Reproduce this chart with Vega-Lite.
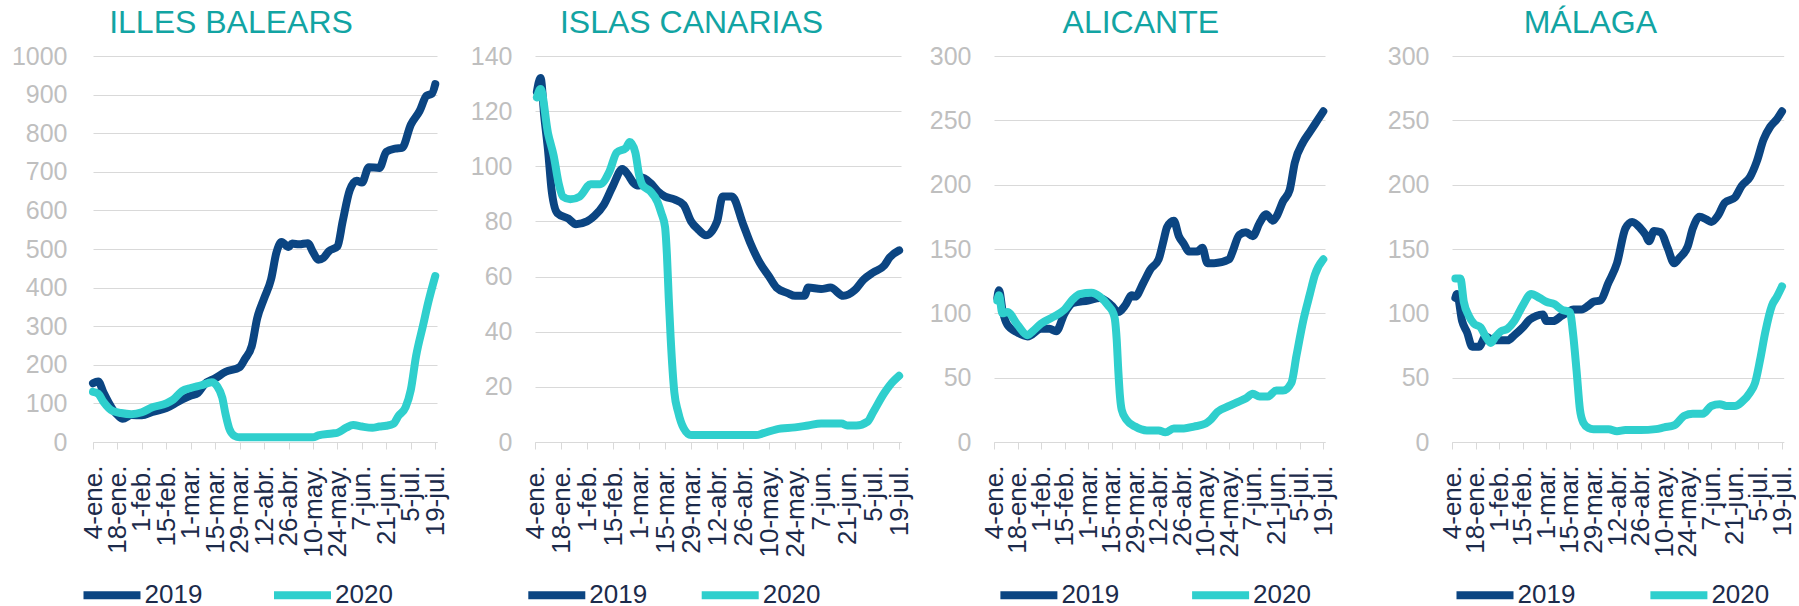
{
"$schema":"https://vega.github.io/schema/vega-lite/v6.json",
"padding":{"left":11,"top":7,"right":0,"bottom":0},
"background":"white",
"spacing":0,
"bounds":"flush",
"config":{
"view":{"stroke":null},
"font":"Liberation Sans",
"title":{"fontSize":32,"fontWeight":"normal","color":"#12a4a3","anchor":"middle","frame":"group","offset":0,"baseline":"alphabetic","font":"Liberation Sans"},
"axisY":{"domain":false,"ticks":false,"labelFontSize":25,"labelColor":"#bfbfbf","gridColor":"#d9d9d9","gridWidth":1,"title":null,"labelPadding":23,"labelFont":"Liberation Sans","format":"d"},
"axisX":{"grid":false,"title":null,"labelAngle":270,"labelFontSize":26,"labelColor":"#1c2b4b","labelPadding":16,"tickColor":"#d9d9d9","tickSize":7,"tickWidth":1,"domainColor":"#d9d9d9","domainWidth":1,"labelOverlap":false,"labelFlush":false,"labelBound":false,"labelFont":"Liberation Sans"},
"legend":{"orient":"none","direction":"horizontal","title":null,"symbolType":"stroke","symbolSize":3249,"symbolStrokeWidth":8,"labelFontSize":26,"labelColor":"#1c2b4b","labelOffset":0,"labelFont":"Liberation Sans"},
"line":{"strokeWidth":8,"strokeCap":"round","strokeJoin":"round","interpolate":"monotone"}
},
"data":{"values":[
{"region":"IB","year":"2019","date":"2019-01-04","value":152},{"region":"IB","year":"2019","date":"2019-01-07","value":157},{"region":"IB","year":"2019","date":"2019-01-10","value":128},{"region":"IB","year":"2019","date":"2019-01-13","value":102},{"region":"IB","year":"2019","date":"2019-01-16","value":80},{"region":"IB","year":"2019","date":"2019-01-18","value":70},{"region":"IB","year":"2019","date":"2019-01-21","value":60},{"region":"IB","year":"2019","date":"2019-01-26","value":70},{"region":"IB","year":"2019","date":"2019-02-01","value":69},{"region":"IB","year":"2019","date":"2019-02-07","value":78},{"region":"IB","year":"2019","date":"2019-02-15","value":88},{"region":"IB","year":"2019","date":"2019-02-22","value":105},{"region":"IB","year":"2019","date":"2019-03-01","value":120},{"region":"IB","year":"2019","date":"2019-03-05","value":127},{"region":"IB","year":"2019","date":"2019-03-09","value":150},{"region":"IB","year":"2019","date":"2019-03-15","value":165},{"region":"IB","year":"2019","date":"2019-03-21","value":182},{"region":"IB","year":"2019","date":"2019-03-29","value":194},{"region":"IB","year":"2019","date":"2019-04-01","value":215},{"region":"IB","year":"2019","date":"2019-04-05","value":250},{"region":"IB","year":"2019","date":"2019-04-08","value":320},{"region":"IB","year":"2019","date":"2019-04-12","value":372},{"region":"IB","year":"2019","date":"2019-04-16","value":422},{"region":"IB","year":"2019","date":"2019-04-19","value":490},{"region":"IB","year":"2019","date":"2019-04-22","value":518},{"region":"IB","year":"2019","date":"2019-04-26","value":505},{"region":"IB","year":"2019","date":"2019-04-28","value":514},{"region":"IB","year":"2019","date":"2019-05-02","value":512},{"region":"IB","year":"2019","date":"2019-05-07","value":515},{"region":"IB","year":"2019","date":"2019-05-10","value":492},{"region":"IB","year":"2019","date":"2019-05-13","value":472},{"region":"IB","year":"2019","date":"2019-05-16","value":477},{"region":"IB","year":"2019","date":"2019-05-19","value":494},{"region":"IB","year":"2019","date":"2019-05-24","value":507},{"region":"IB","year":"2019","date":"2019-05-27","value":572},{"region":"IB","year":"2019","date":"2019-05-31","value":652},{"region":"IB","year":"2019","date":"2019-06-04","value":677},{"region":"IB","year":"2019","date":"2019-06-07","value":672},{"region":"IB","year":"2019","date":"2019-06-11","value":712},{"region":"IB","year":"2019","date":"2019-06-17","value":710},{"region":"IB","year":"2019","date":"2019-06-21","value":752},{"region":"IB","year":"2019","date":"2019-06-26","value":760},{"region":"IB","year":"2019","date":"2019-06-30","value":762},{"region":"IB","year":"2019","date":"2019-07-05","value":822},{"region":"IB","year":"2019","date":"2019-07-10","value":857},{"region":"IB","year":"2019","date":"2019-07-14","value":897},{"region":"IB","year":"2019","date":"2019-07-17","value":902},{"region":"IB","year":"2019","date":"2019-07-19","value":927},
{"region":"IB","year":"2020","date":"2019-01-04","value":130},{"region":"IB","year":"2020","date":"2019-01-07","value":125},{"region":"IB","year":"2020","date":"2019-01-10","value":104},{"region":"IB","year":"2020","date":"2019-01-15","value":81},{"region":"IB","year":"2020","date":"2019-01-20","value":75},{"region":"IB","year":"2020","date":"2019-01-26","value":72},{"region":"IB","year":"2020","date":"2019-02-01","value":77},{"region":"IB","year":"2020","date":"2019-02-07","value":90},{"region":"IB","year":"2020","date":"2019-02-15","value":100},{"region":"IB","year":"2020","date":"2019-02-19","value":110},{"region":"IB","year":"2020","date":"2019-02-24","value":132},{"region":"IB","year":"2020","date":"2019-03-01","value":140},{"region":"IB","year":"2020","date":"2019-03-07","value":147},{"region":"IB","year":"2020","date":"2019-03-13","value":155},{"region":"IB","year":"2020","date":"2019-03-16","value":145},{"region":"IB","year":"2020","date":"2019-03-19","value":115},{"region":"IB","year":"2020","date":"2019-03-21","value":70},{"region":"IB","year":"2020","date":"2019-03-23","value":35},{"region":"IB","year":"2020","date":"2019-03-26","value":16},{"region":"IB","year":"2020","date":"2019-03-29","value":12},{"region":"IB","year":"2020","date":"2019-04-15","value":12},{"region":"IB","year":"2020","date":"2019-05-01","value":12},{"region":"IB","year":"2020","date":"2019-05-10","value":12},{"region":"IB","year":"2020","date":"2019-05-13","value":17},{"region":"IB","year":"2020","date":"2019-05-21","value":22},{"region":"IB","year":"2020","date":"2019-05-24","value":24},{"region":"IB","year":"2020","date":"2019-05-29","value":37},{"region":"IB","year":"2020","date":"2019-06-02","value":44},{"region":"IB","year":"2020","date":"2019-06-07","value":40},{"region":"IB","year":"2020","date":"2019-06-13","value":37},{"region":"IB","year":"2020","date":"2019-06-17","value":40},{"region":"IB","year":"2020","date":"2019-06-21","value":42},{"region":"IB","year":"2020","date":"2019-06-25","value":47},{"region":"IB","year":"2020","date":"2019-06-28","value":68},{"region":"IB","year":"2020","date":"2019-07-02","value":90},{"region":"IB","year":"2020","date":"2019-07-05","value":135},{"region":"IB","year":"2020","date":"2019-07-08","value":222},{"region":"IB","year":"2020","date":"2019-07-12","value":302},{"region":"IB","year":"2020","date":"2019-07-15","value":362},{"region":"IB","year":"2020","date":"2019-07-19","value":430},
{"region":"IC","year":"2019","date":"2019-01-05","value":127},{"region":"IC","year":"2019","date":"2019-01-07","value":132},{"region":"IC","year":"2019","date":"2019-01-09","value":118},{"region":"IC","year":"2019","date":"2019-01-11","value":106},{"region":"IC","year":"2019","date":"2019-01-13","value":91},{"region":"IC","year":"2019","date":"2019-01-16","value":83},{"region":"IC","year":"2019","date":"2019-01-22","value":81},{"region":"IC","year":"2019","date":"2019-01-26","value":79},{"region":"IC","year":"2019","date":"2019-02-01","value":80},{"region":"IC","year":"2019","date":"2019-02-05","value":82},{"region":"IC","year":"2019","date":"2019-02-10","value":86},{"region":"IC","year":"2019","date":"2019-02-15","value":93},{"region":"IC","year":"2019","date":"2019-02-20","value":99},{"region":"IC","year":"2019","date":"2019-02-23","value":97},{"region":"IC","year":"2019","date":"2019-02-26","value":94},{"region":"IC","year":"2019","date":"2019-03-01","value":93},{"region":"IC","year":"2019","date":"2019-03-02","value":96},{"region":"IC","year":"2019","date":"2019-03-07","value":94},{"region":"IC","year":"2019","date":"2019-03-11","value":91},{"region":"IC","year":"2019","date":"2019-03-15","value":89},{"region":"IC","year":"2019","date":"2019-03-20","value":88},{"region":"IC","year":"2019","date":"2019-03-25","value":86},{"region":"IC","year":"2019","date":"2019-03-29","value":80},{"region":"IC","year":"2019","date":"2019-04-02","value":77},{"region":"IC","year":"2019","date":"2019-04-06","value":75},{"region":"IC","year":"2019","date":"2019-04-12","value":80},{"region":"IC","year":"2019","date":"2019-04-15","value":89},{"region":"IC","year":"2019","date":"2019-04-20","value":89},{"region":"IC","year":"2019","date":"2019-04-26","value":79},{"region":"IC","year":"2019","date":"2019-04-30","value":72},{"region":"IC","year":"2019","date":"2019-05-05","value":65},{"region":"IC","year":"2019","date":"2019-05-10","value":60},{"region":"IC","year":"2019","date":"2019-05-14","value":56},{"region":"IC","year":"2019","date":"2019-05-20","value":54},{"region":"IC","year":"2019","date":"2019-05-24","value":53},{"region":"IC","year":"2019","date":"2019-05-29","value":53},{"region":"IC","year":"2019","date":"2019-05-31","value":56},{"region":"IC","year":"2019","date":"2019-06-07","value":55.5},{"region":"IC","year":"2019","date":"2019-06-12","value":56},{"region":"IC","year":"2019","date":"2019-06-19","value":53},{"region":"IC","year":"2019","date":"2019-06-25","value":55},{"region":"IC","year":"2019","date":"2019-06-30","value":59},{"region":"IC","year":"2019","date":"2019-07-05","value":61.5},{"region":"IC","year":"2019","date":"2019-07-11","value":64},{"region":"IC","year":"2019","date":"2019-07-14","value":67},{"region":"IC","year":"2019","date":"2019-07-19","value":69.5},
{"region":"IC","year":"2020","date":"2019-01-05","value":125},{"region":"IC","year":"2020","date":"2019-01-07","value":128},{"region":"IC","year":"2020","date":"2019-01-11","value":112},{"region":"IC","year":"2020","date":"2019-01-14","value":104},{"region":"IC","year":"2020","date":"2019-01-17","value":93},{"region":"IC","year":"2020","date":"2019-01-19","value":89},{"region":"IC","year":"2020","date":"2019-01-23","value":88},{"region":"IC","year":"2020","date":"2019-01-28","value":89},{"region":"IC","year":"2020","date":"2019-02-03","value":93.5},{"region":"IC","year":"2020","date":"2019-02-08","value":93.5},{"region":"IC","year":"2020","date":"2019-02-13","value":98},{"region":"IC","year":"2020","date":"2019-02-17","value":105},{"region":"IC","year":"2020","date":"2019-02-22","value":106.7},{"region":"IC","year":"2020","date":"2019-02-24","value":108.8},{"region":"IC","year":"2020","date":"2019-02-27","value":105},{"region":"IC","year":"2020","date":"2019-03-01","value":97},{"region":"IC","year":"2020","date":"2019-03-03","value":93},{"region":"IC","year":"2020","date":"2019-03-07","value":91},{"region":"IC","year":"2020","date":"2019-03-11","value":87},{"region":"IC","year":"2020","date":"2019-03-13","value":83},{"region":"IC","year":"2020","date":"2019-03-15","value":78},{"region":"IC","year":"2020","date":"2019-03-16","value":68},{"region":"IC","year":"2020","date":"2019-03-17","value":52},{"region":"IC","year":"2020","date":"2019-03-18","value":38},{"region":"IC","year":"2020","date":"2019-03-20","value":18},{"region":"IC","year":"2020","date":"2019-03-22","value":11},{"region":"IC","year":"2020","date":"2019-03-25","value":5},{"region":"IC","year":"2020","date":"2019-03-29","value":2.5},{"region":"IC","year":"2020","date":"2019-04-15","value":2.5},{"region":"IC","year":"2020","date":"2019-05-03","value":2.5},{"region":"IC","year":"2020","date":"2019-05-07","value":3.2},{"region":"IC","year":"2020","date":"2019-05-14","value":4.6},{"region":"IC","year":"2020","date":"2019-05-24","value":5.3},{"region":"IC","year":"2020","date":"2019-05-31","value":6},{"region":"IC","year":"2020","date":"2019-06-07","value":6.7},{"region":"IC","year":"2020","date":"2019-06-18","value":6.7},{"region":"IC","year":"2020","date":"2019-06-21","value":6},{"region":"IC","year":"2020","date":"2019-06-26","value":6},{"region":"IC","year":"2020","date":"2019-07-02","value":7.4},{"region":"IC","year":"2020","date":"2019-07-05","value":10.8},{"region":"IC","year":"2020","date":"2019-07-11","value":17.8},{"region":"IC","year":"2020","date":"2019-07-14","value":20.6},{"region":"IC","year":"2020","date":"2019-07-19","value":24},
{"region":"AL","year":"2019","date":"2019-01-06","value":112},{"region":"AL","year":"2019","date":"2019-01-07","value":118},{"region":"AL","year":"2019","date":"2019-01-09","value":103},{"region":"AL","year":"2019","date":"2019-01-12","value":91},{"region":"AL","year":"2019","date":"2019-01-18","value":85},{"region":"AL","year":"2019","date":"2019-01-24","value":82},{"region":"AL","year":"2019","date":"2019-02-01","value":88},{"region":"AL","year":"2019","date":"2019-02-06","value":88},{"region":"AL","year":"2019","date":"2019-02-10","value":86},{"region":"AL","year":"2019","date":"2019-02-15","value":100},{"region":"AL","year":"2019","date":"2019-02-20","value":108},{"region":"AL","year":"2019","date":"2019-03-01","value":110},{"region":"AL","year":"2019","date":"2019-03-08","value":112},{"region":"AL","year":"2019","date":"2019-03-15","value":106},{"region":"AL","year":"2019","date":"2019-03-19","value":101},{"region":"AL","year":"2019","date":"2019-03-23","value":106},{"region":"AL","year":"2019","date":"2019-03-27","value":114},{"region":"AL","year":"2019","date":"2019-03-29","value":113},{"region":"AL","year":"2019","date":"2019-04-03","value":124},{"region":"AL","year":"2019","date":"2019-04-07","value":134},{"region":"AL","year":"2019","date":"2019-04-12","value":142},{"region":"AL","year":"2019","date":"2019-04-15","value":157},{"region":"AL","year":"2019","date":"2019-04-17","value":167},{"region":"AL","year":"2019","date":"2019-04-21","value":172},{"region":"AL","year":"2019","date":"2019-04-24","value":160},{"region":"AL","year":"2019","date":"2019-04-27","value":154},{"region":"AL","year":"2019","date":"2019-04-30","value":148},{"region":"AL","year":"2019","date":"2019-05-05","value":148},{"region":"AL","year":"2019","date":"2019-05-08","value":151},{"region":"AL","year":"2019","date":"2019-05-11","value":139},{"region":"AL","year":"2019","date":"2019-05-15","value":139},{"region":"AL","year":"2019","date":"2019-05-24","value":142},{"region":"AL","year":"2019","date":"2019-05-26","value":148},{"region":"AL","year":"2019","date":"2019-05-30","value":161},{"region":"AL","year":"2019","date":"2019-06-03","value":163},{"region":"AL","year":"2019","date":"2019-06-07","value":160},{"region":"AL","year":"2019","date":"2019-06-11","value":170},{"region":"AL","year":"2019","date":"2019-06-15","value":177},{"region":"AL","year":"2019","date":"2019-06-19","value":172},{"region":"AL","year":"2019","date":"2019-06-21","value":175},{"region":"AL","year":"2019","date":"2019-06-25","value":187},{"region":"AL","year":"2019","date":"2019-06-29","value":196},{"region":"AL","year":"2019","date":"2019-07-02","value":217},{"region":"AL","year":"2019","date":"2019-07-07","value":233},{"region":"AL","year":"2019","date":"2019-07-11","value":241},{"region":"AL","year":"2019","date":"2019-07-14","value":247},{"region":"AL","year":"2019","date":"2019-07-19","value":257},
{"region":"AL","year":"2020","date":"2019-01-06","value":110},{"region":"AL","year":"2020","date":"2019-01-07","value":114},{"region":"AL","year":"2020","date":"2019-01-09","value":100},{"region":"AL","year":"2020","date":"2019-01-12","value":101},{"region":"AL","year":"2020","date":"2019-01-18","value":91},{"region":"AL","year":"2020","date":"2019-01-24","value":83},{"region":"AL","year":"2020","date":"2019-01-27","value":86},{"region":"AL","year":"2020","date":"2019-02-01","value":92},{"region":"AL","year":"2020","date":"2019-02-08","value":97},{"region":"AL","year":"2020","date":"2019-02-15","value":103},{"region":"AL","year":"2020","date":"2019-02-20","value":111},{"region":"AL","year":"2020","date":"2019-02-24","value":115},{"region":"AL","year":"2020","date":"2019-03-03","value":116},{"region":"AL","year":"2020","date":"2019-03-08","value":113},{"region":"AL","year":"2020","date":"2019-03-13","value":106},{"region":"AL","year":"2020","date":"2019-03-16","value":100},{"region":"AL","year":"2020","date":"2019-03-17","value":95},{"region":"AL","year":"2020","date":"2019-03-18","value":80},{"region":"AL","year":"2020","date":"2019-03-19","value":55},{"region":"AL","year":"2020","date":"2019-03-20","value":35},{"region":"AL","year":"2020","date":"2019-03-21","value":25},{"region":"AL","year":"2020","date":"2019-03-24","value":17},{"region":"AL","year":"2020","date":"2019-03-29","value":12},{"region":"AL","year":"2020","date":"2019-04-05","value":9},{"region":"AL","year":"2020","date":"2019-04-12","value":9},{"region":"AL","year":"2020","date":"2019-04-16","value":7.5},{"region":"AL","year":"2020","date":"2019-04-21","value":10.5},{"region":"AL","year":"2020","date":"2019-04-27","value":10.5},{"region":"AL","year":"2020","date":"2019-05-03","value":12},{"region":"AL","year":"2020","date":"2019-05-10","value":14.4},{"region":"AL","year":"2020","date":"2019-05-13","value":17.4},{"region":"AL","year":"2020","date":"2019-05-17","value":23.4},{"region":"AL","year":"2020","date":"2019-05-24","value":28},{"region":"AL","year":"2020","date":"2019-05-29","value":31},{"region":"AL","year":"2020","date":"2019-06-03","value":34},{"region":"AL","year":"2020","date":"2019-06-07","value":37.5},{"region":"AL","year":"2020","date":"2019-06-11","value":35.4},{"region":"AL","year":"2020","date":"2019-06-16","value":35.4},{"region":"AL","year":"2020","date":"2019-06-21","value":40},{"region":"AL","year":"2020","date":"2019-06-25","value":40},{"region":"AL","year":"2020","date":"2019-06-30","value":46},{"region":"AL","year":"2020","date":"2019-07-03","value":67},{"region":"AL","year":"2020","date":"2019-07-07","value":94},{"region":"AL","year":"2020","date":"2019-07-11","value":115},{"region":"AL","year":"2020","date":"2019-07-14","value":130},{"region":"AL","year":"2020","date":"2019-07-19","value":142},
{"region":"ML","year":"2019","date":"2019-01-06","value":112},{"region":"ML","year":"2019","date":"2019-01-07","value":115},{"region":"ML","year":"2019","date":"2019-01-10","value":94},{"region":"ML","year":"2019","date":"2019-01-13","value":85},{"region":"ML","year":"2019","date":"2019-01-16","value":74},{"region":"ML","year":"2019","date":"2019-01-20","value":74},{"region":"ML","year":"2019","date":"2019-01-24","value":82},{"region":"ML","year":"2019","date":"2019-01-29","value":79},{"region":"ML","year":"2019","date":"2019-02-01","value":79},{"region":"ML","year":"2019","date":"2019-02-06","value":79},{"region":"ML","year":"2019","date":"2019-02-10","value":83},{"region":"ML","year":"2019","date":"2019-02-15","value":89},{"region":"ML","year":"2019","date":"2019-02-19","value":95},{"region":"ML","year":"2019","date":"2019-02-23","value":98},{"region":"ML","year":"2019","date":"2019-02-27","value":99},{"region":"ML","year":"2019","date":"2019-03-01","value":94},{"region":"ML","year":"2019","date":"2019-03-05","value":94},{"region":"ML","year":"2019","date":"2019-03-10","value":98},{"region":"ML","year":"2019","date":"2019-03-14","value":101},{"region":"ML","year":"2019","date":"2019-03-17","value":103},{"region":"ML","year":"2019","date":"2019-03-22","value":103},{"region":"ML","year":"2019","date":"2019-03-26","value":106},{"region":"ML","year":"2019","date":"2019-03-29","value":109},{"region":"ML","year":"2019","date":"2019-04-02","value":110},{"region":"ML","year":"2019","date":"2019-04-07","value":124},{"region":"ML","year":"2019","date":"2019-04-12","value":139},{"region":"ML","year":"2019","date":"2019-04-17","value":166},{"region":"ML","year":"2019","date":"2019-04-21","value":171},{"region":"ML","year":"2019","date":"2019-04-26","value":166},{"region":"ML","year":"2019","date":"2019-04-29","value":161},{"region":"ML","year":"2019","date":"2019-05-01","value":156},{"region":"ML","year":"2019","date":"2019-05-04","value":164},{"region":"ML","year":"2019","date":"2019-05-08","value":163},{"region":"ML","year":"2019","date":"2019-05-12","value":151},{"region":"ML","year":"2019","date":"2019-05-16","value":139},{"region":"ML","year":"2019","date":"2019-05-19","value":143},{"region":"ML","year":"2019","date":"2019-05-24","value":152},{"region":"ML","year":"2019","date":"2019-05-27","value":166},{"region":"ML","year":"2019","date":"2019-05-31","value":175},{"region":"ML","year":"2019","date":"2019-06-04","value":173},{"region":"ML","year":"2019","date":"2019-06-07","value":171},{"region":"ML","year":"2019","date":"2019-06-11","value":176},{"region":"ML","year":"2019","date":"2019-06-15","value":186},{"region":"ML","year":"2019","date":"2019-06-21","value":190},{"region":"ML","year":"2019","date":"2019-06-25","value":199},{"region":"ML","year":"2019","date":"2019-06-30","value":206},{"region":"ML","year":"2019","date":"2019-07-04","value":218},{"region":"ML","year":"2019","date":"2019-07-08","value":235},{"region":"ML","year":"2019","date":"2019-07-12","value":245},{"region":"ML","year":"2019","date":"2019-07-16","value":251},{"region":"ML","year":"2019","date":"2019-07-19","value":257},
{"region":"ML","year":"2020","date":"2019-01-06","value":127},{"region":"ML","year":"2020","date":"2019-01-09","value":127},{"region":"ML","year":"2020","date":"2019-01-11","value":109},{"region":"ML","year":"2020","date":"2019-01-14","value":98},{"region":"ML","year":"2020","date":"2019-01-17","value":92},{"region":"ML","year":"2020","date":"2019-01-21","value":89},{"region":"ML","year":"2020","date":"2019-01-24","value":82},{"region":"ML","year":"2020","date":"2019-01-27","value":77},{"region":"ML","year":"2020","date":"2019-01-30","value":82},{"region":"ML","year":"2020","date":"2019-02-02","value":86},{"region":"ML","year":"2020","date":"2019-02-06","value":88},{"region":"ML","year":"2020","date":"2019-02-10","value":94},{"region":"ML","year":"2020","date":"2019-02-15","value":106},{"region":"ML","year":"2020","date":"2019-02-20","value":115},{"region":"ML","year":"2020","date":"2019-02-25","value":112},{"region":"ML","year":"2020","date":"2019-03-01","value":109},{"region":"ML","year":"2020","date":"2019-03-06","value":107},{"region":"ML","year":"2020","date":"2019-03-10","value":103},{"region":"ML","year":"2020","date":"2019-03-15","value":101},{"region":"ML","year":"2020","date":"2019-03-17","value":83},{"region":"ML","year":"2020","date":"2019-03-19","value":55},{"region":"ML","year":"2020","date":"2019-03-21","value":25},{"region":"ML","year":"2020","date":"2019-03-23","value":15},{"region":"ML","year":"2020","date":"2019-03-26","value":11},{"region":"ML","year":"2020","date":"2019-03-29","value":10},{"region":"ML","year":"2020","date":"2019-04-07","value":10},{"region":"ML","year":"2020","date":"2019-04-12","value":8.4},{"region":"ML","year":"2020","date":"2019-04-17","value":9.3},{"region":"ML","year":"2020","date":"2019-04-26","value":9.3},{"region":"ML","year":"2020","date":"2019-05-05","value":10},{"region":"ML","year":"2020","date":"2019-05-10","value":11.4},{"region":"ML","year":"2020","date":"2019-05-16","value":13},{"region":"ML","year":"2020","date":"2019-05-22","value":20.4},{"region":"ML","year":"2020","date":"2019-05-27","value":22},{"region":"ML","year":"2020","date":"2019-06-02","value":22},{"region":"ML","year":"2020","date":"2019-06-07","value":28},{"region":"ML","year":"2020","date":"2019-06-12","value":29.4},{"region":"ML","year":"2020","date":"2019-06-16","value":28},{"region":"ML","year":"2020","date":"2019-06-21","value":28},{"region":"ML","year":"2020","date":"2019-06-25","value":31},{"region":"ML","year":"2020","date":"2019-06-30","value":38.4},{"region":"ML","year":"2020","date":"2019-07-03","value":46},{"region":"ML","year":"2020","date":"2019-07-06","value":64},{"region":"ML","year":"2020","date":"2019-07-09","value":85},{"region":"ML","year":"2020","date":"2019-07-13","value":106},{"region":"ML","year":"2020","date":"2019-07-16","value":113},{"region":"ML","year":"2020","date":"2019-07-19","value":121}
]},
"hconcat":[
{"width":442,"height":386,"title":{"text":"ILLES BALEARS","dx":-83},
"transform":[{"filter":"datum.region === 'IB'"}],
"mark":{"type":"line"},
"encoding":{
"x":{"field":"date","type":"temporal","scale":{"type":"utc","domain":[{"year":2019,"month":1,"date":4,"utc":true},{"year":2019,"month":7,"date":20,"utc":true}],"range":[0,344]},
"axis":{"values":[{"year":2019,"month":1,"date":4,"utc":true},{"year":2019,"month":1,"date":18,"utc":true},{"year":2019,"month":2,"date":1,"utc":true},{"year":2019,"month":2,"date":15,"utc":true},{"year":2019,"month":3,"date":1,"utc":true},{"year":2019,"month":3,"date":15,"utc":true},{"year":2019,"month":3,"date":29,"utc":true},{"year":2019,"month":4,"date":12,"utc":true},{"year":2019,"month":4,"date":26,"utc":true},{"year":2019,"month":5,"date":10,"utc":true},{"year":2019,"month":5,"date":24,"utc":true},{"year":2019,"month":6,"date":7,"utc":true},{"year":2019,"month":6,"date":21,"utc":true},{"year":2019,"month":7,"date":5,"utc":true},{"year":2019,"month":7,"date":19,"utc":true}],"labelExpr":"utcdate(datum.value) + '-' + ['ene.','feb.','mar.','abr.','may.','jun.','jul.','ago.','sep.','oct.','nov.','dic.'][utcmonth(datum.value)]"}},
"y":{"field":"value","type":"quantitative","scale":{"domain":[0,1000],"nice":false},"axis":{"values":[0,100,200,300,400,500,600,700,800,900,1000],"labelPadding":26}},
"color":{"field":"year","type":"nominal","scale":{"domain":["2019","2020"],"range":["#0b4582","#2fcfcd"]},"legend":{"legendX":-13.5,"legendY":506.5,"columnPadding":67.5}}}},
{"width":459,"height":386,"title":{"text":"ISLAS CANARIAS","dx":-73},
"transform":[{"filter":"datum.region === 'IC'"}],
"mark":{"type":"line"},
"encoding":{
"x":{"field":"date","type":"temporal","scale":{"type":"utc","domain":[{"year":2019,"month":1,"date":4,"utc":true},{"year":2019,"month":7,"date":20,"utc":true}],"range":[0,366]},
"axis":{"values":[{"year":2019,"month":1,"date":4,"utc":true},{"year":2019,"month":1,"date":18,"utc":true},{"year":2019,"month":2,"date":1,"utc":true},{"year":2019,"month":2,"date":15,"utc":true},{"year":2019,"month":3,"date":1,"utc":true},{"year":2019,"month":3,"date":15,"utc":true},{"year":2019,"month":3,"date":29,"utc":true},{"year":2019,"month":4,"date":12,"utc":true},{"year":2019,"month":4,"date":26,"utc":true},{"year":2019,"month":5,"date":10,"utc":true},{"year":2019,"month":5,"date":24,"utc":true},{"year":2019,"month":6,"date":7,"utc":true},{"year":2019,"month":6,"date":21,"utc":true},{"year":2019,"month":7,"date":5,"utc":true},{"year":2019,"month":7,"date":19,"utc":true}],"labelExpr":"utcdate(datum.value) + '-' + ['ene.','feb.','mar.','abr.','may.','jun.','jul.','ago.','sep.','oct.','nov.','dic.'][utcmonth(datum.value)]"}},
"y":{"field":"value","type":"quantitative","scale":{"domain":[0,140],"nice":false},"axis":{"values":[0,20,40,60,80,100,120,140]}},
"color":{"field":"year","type":"nominal","scale":{"domain":["2019","2020"],"range":["#0b4582","#2fcfcd"]},"legend":{"legendX":-10.7,"legendY":506.5,"columnPadding":50.4}}}},
{"width":457.6,"height":386,"title":{"text":"ALICANTE","dx":-82},
"transform":[{"filter":"datum.region === 'AL'"}],
"mark":{"type":"line"},
"encoding":{
"x":{"field":"date","type":"temporal","scale":{"type":"utc","domain":[{"year":2019,"month":1,"date":4,"utc":true},{"year":2019,"month":7,"date":20,"utc":true}],"range":[0,331]},
"axis":{"values":[{"year":2019,"month":1,"date":4,"utc":true},{"year":2019,"month":1,"date":18,"utc":true},{"year":2019,"month":2,"date":1,"utc":true},{"year":2019,"month":2,"date":15,"utc":true},{"year":2019,"month":3,"date":1,"utc":true},{"year":2019,"month":3,"date":15,"utc":true},{"year":2019,"month":3,"date":29,"utc":true},{"year":2019,"month":4,"date":12,"utc":true},{"year":2019,"month":4,"date":26,"utc":true},{"year":2019,"month":5,"date":10,"utc":true},{"year":2019,"month":5,"date":24,"utc":true},{"year":2019,"month":6,"date":7,"utc":true},{"year":2019,"month":6,"date":21,"utc":true},{"year":2019,"month":7,"date":5,"utc":true},{"year":2019,"month":7,"date":19,"utc":true}],"labelExpr":"utcdate(datum.value) + '-' + ['ene.','feb.','mar.','abr.','may.','jun.','jul.','ago.','sep.','oct.','nov.','dic.'][utcmonth(datum.value)]"}},
"y":{"field":"value","type":"quantitative","scale":{"domain":[0,300],"nice":false},"axis":{"values":[0,50,100,150,200,250,300]}},
"color":{"field":"year","type":"nominal","scale":{"domain":["2019","2020"],"range":["#0b4582","#2fcfcd"]},"legend":{"legendX":2.4,"legendY":506.5,"columnPadding":68.7}}}},
{"width":331.7,"height":386,"title":{"text":"MÁLAGA","dx":-27.5},
"transform":[{"filter":"datum.region === 'ML'"}],
"mark":{"type":"line"},
"encoding":{
"x":{"field":"date","type":"temporal","scale":{"type":"utc","domain":[{"year":2019,"month":1,"date":4,"utc":true},{"year":2019,"month":7,"date":20,"utc":true}],"range":[0,331.7]},
"axis":{"values":[{"year":2019,"month":1,"date":4,"utc":true},{"year":2019,"month":1,"date":18,"utc":true},{"year":2019,"month":2,"date":1,"utc":true},{"year":2019,"month":2,"date":15,"utc":true},{"year":2019,"month":3,"date":1,"utc":true},{"year":2019,"month":3,"date":15,"utc":true},{"year":2019,"month":3,"date":29,"utc":true},{"year":2019,"month":4,"date":12,"utc":true},{"year":2019,"month":4,"date":26,"utc":true},{"year":2019,"month":5,"date":10,"utc":true},{"year":2019,"month":5,"date":24,"utc":true},{"year":2019,"month":6,"date":7,"utc":true},{"year":2019,"month":6,"date":21,"utc":true},{"year":2019,"month":7,"date":5,"utc":true},{"year":2019,"month":7,"date":19,"utc":true}],"labelExpr":"utcdate(datum.value) + '-' + ['ene.','feb.','mar.','abr.','may.','jun.','jul.','ago.','sep.','oct.','nov.','dic.'][utcmonth(datum.value)]"}},
"y":{"field":"value","type":"quantitative","scale":{"domain":[0,300],"nice":false},"axis":{"values":[0,50,100,150,200,250,300]}},
"color":{"field":"year","type":"nominal","scale":{"domain":["2019","2020"],"range":["#0b4582","#2fcfcd"]},"legend":{"legendX":0.5,"legendY":506.5,"columnPadding":70.9}}}}
],
"resolve":{"scale":{"x":"independent","y":"independent","color":"independent"},"legend":{"color":"independent"}}
}
